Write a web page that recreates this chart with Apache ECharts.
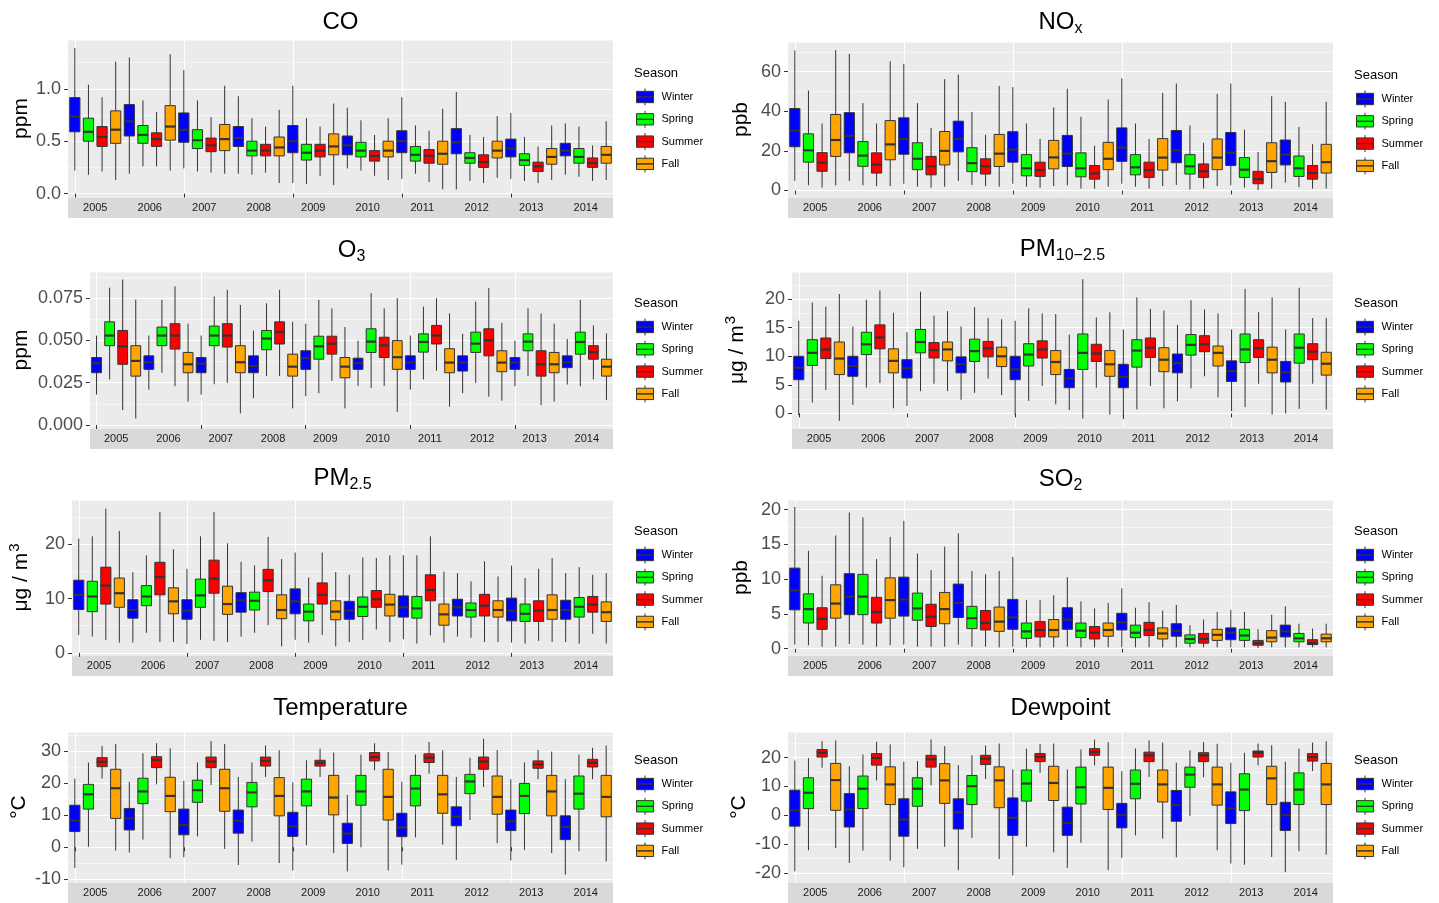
<!DOCTYPE html>
<html>
<head>
<meta charset="utf-8">
<title>Seasonal air quality and weather, 2005-2014</title>
<script src="https://cdn.jsdelivr.net/npm/echarts@6/dist/echarts.min.js"></script>
<style>
html, body { margin: 0; padding: 0; background: #fff; }
#main { width: 1439px; height: 903px; }
</style>
</head>
<body>
<div id="main"></div>
<script>
var years = ['2005', '2006', '2007', '2008', '2009', '2010', '2011', '2012', '2013', '2014'];
var seasons = ['Winter', 'Spring', 'Summer', 'Fall'];
var seasonColors = ['#0000FF', '#00FF00', '#FF0000', '#FFA500'];

// labelled y ticks of each panel
var coTicks = [0, 0.5, 1.0];
var noxTicks = [0, 20, 40, 60];
var o3Ticks = [0, 0.025, 0.05, 0.075];
var pm10Ticks = [0, 5, 10, 15, 20];
var pm25Ticks = [0, 10, 20];
var so2Ticks = [0, 5, 10, 15, 20];
var tempTicks = [-10, 0, 10, 20, 30];
var dewTicks = [-20, -10, 0, 10, 20];

// one row per box: [lower whisker, q1, median, q3, upper whisker]
// order: 2005 Winter, Spring, Summer, Fall, 2006 Winter ...
var coBox = [
	[0.22, 0.59, 0.735, 0.917, 1.39], [0.18, 0.50, 0.59, 0.72, 1.04], [0.21, 0.45, 0.54, 0.64, 0.92], [0.13, 0.48, 0.61, 0.79, 1.26],
	[0.19, 0.55, 0.69, 0.85, 1.30], [0.26, 0.48, 0.56, 0.65, 0.89], [0.26, 0.45, 0.52, 0.58, 0.78], [0.22, 0.51, 0.64, 0.84, 1.33],
	[0.24, 0.49, 0.61, 0.77, 1.18], [0.21, 0.43, 0.51, 0.61, 0.89], [0.20, 0.40, 0.46, 0.53, 0.73], [0.19, 0.41, 0.52, 0.66, 1.03],
	[0.19, 0.45, 0.53, 0.64, 0.93], [0.18, 0.36, 0.41, 0.50, 0.72], [0.20, 0.36, 0.41, 0.47, 0.64], [0.10, 0.36, 0.44, 0.54, 0.80],
	[0.10, 0.39, 0.50, 0.65, 1.03], [0.09, 0.32, 0.39, 0.47, 0.72], [0.17, 0.35, 0.41, 0.47, 0.64], [0.08, 0.37, 0.45, 0.57, 0.86],
	[0.24, 0.37, 0.46, 0.55, 0.82], [0.22, 0.35, 0.41, 0.49, 0.70], [0.17, 0.31, 0.36, 0.41, 0.56], [0.13, 0.35, 0.41, 0.50, 0.72],
	[0.14, 0.39, 0.50, 0.60, 0.92], [0.19, 0.31, 0.37, 0.45, 0.65], [0.11, 0.29, 0.36, 0.42, 0.60], [0.04, 0.28, 0.38, 0.50, 0.81],
	[0.04, 0.38, 0.49, 0.62, 0.97], [0.12, 0.29, 0.34, 0.39, 0.56], [0.10, 0.25, 0.30, 0.37, 0.54], [0.15, 0.34, 0.41, 0.50, 0.74],
	[0.14, 0.35, 0.43, 0.52, 0.77], [0.12, 0.27, 0.32, 0.38, 0.54], [0.10, 0.21, 0.26, 0.30, 0.45], [0.13, 0.28, 0.35, 0.43, 0.65],
	[0.18, 0.36, 0.41, 0.48, 0.67], [0.16, 0.29, 0.35, 0.43, 0.64], [0.12, 0.25, 0.29, 0.34, 0.46], [0.13, 0.29, 0.37, 0.45, 0.69]
];
var noxBox = [
	[4.8, 22.1, 30.2, 41.4, 70.7], [2.6, 14.3, 20.3, 28.6, 50.5], [1.4, 9.7, 14.0, 19.1, 33.8], [2.6, 17.2, 25.5, 38.4, 70.9],
	[4.8, 19.0, 27.6, 39.3, 69.0], [2.6, 12.2, 17.6, 24.7, 44.1], [2.2, 8.8, 13.1, 19.0, 33.8], [2.2, 15.5, 23.3, 35.3, 65.2],
	[3.4, 18.3, 26.0, 36.7, 64.0], [1.9, 10.5, 16.0, 24.1, 44.1], [1.4, 7.9, 12.2, 17.2, 31.6], [1.9, 12.9, 20.0, 29.8, 56.2],
	[4.8, 19.5, 26.0, 35.0, 58.6], [2.8, 9.5, 13.8, 21.6, 39.7], [2.2, 8.3, 12.2, 16.0, 28.1], [1.9, 12.1, 18.6, 28.3, 52.8],
	[3.4, 14.3, 20.7, 29.7, 52.2], [1.9, 7.4, 11.2, 18.1, 33.8], [1.4, 7.1, 10.3, 14.3, 26.0], [2.2, 10.9, 16.7, 25.3, 41.9],
	[2.6, 12.1, 18.6, 27.8, 51.4], [1.0, 6.9, 11.2, 19.0, 37.2], [0.9, 5.7, 8.6, 12.6, 22.6], [1.9, 10.5, 16.0, 24.3, 45.9],
	[3.4, 14.7, 21.7, 31.6, 56.6], [1.9, 7.9, 11.7, 18.1, 33.8], [1.0, 6.6, 10.3, 14.3, 26.0], [2.2, 10.3, 16.6, 26.2, 49.3],
	[2.8, 14.0, 20.3, 30.3, 54.0], [0.5, 8.3, 12.2, 18.1, 32.8], [1.0, 6.6, 9.7, 13.4, 24.1], [2.2, 10.5, 16.6, 26.0, 48.8],
	[2.6, 12.6, 19.0, 29.3, 54.0], [1.4, 6.6, 10.5, 16.6, 30.7], [0.2, 3.4, 5.7, 9.7, 19.5], [1.0, 9.1, 14.8, 24.1, 47.6],
	[4.0, 12.9, 18.1, 25.5, 44.8], [1.7, 7.1, 11.2, 17.4, 32.1], [0.9, 5.7, 8.8, 12.6, 23.4], [1.0, 8.8, 14.3, 23.3, 44.8]
];
var o3Box = [
	[0.0180, 0.0309, 0.0365, 0.0399, 0.0529], [0.0269, 0.0469, 0.0529, 0.0610, 0.0812], [0.0088, 0.0359, 0.0465, 0.0559, 0.0860], [0.0038, 0.0289, 0.0379, 0.0469, 0.0742],
	[0.0209, 0.0329, 0.0371, 0.0409, 0.0529], [0.0309, 0.0469, 0.0529, 0.0579, 0.0740], [0.0229, 0.0449, 0.0529, 0.0599, 0.0820], [0.0138, 0.0309, 0.0359, 0.0429, 0.0599],
	[0.0180, 0.0309, 0.0363, 0.0399, 0.0529], [0.0241, 0.0469, 0.0529, 0.0585, 0.0760], [0.0249, 0.0461, 0.0529, 0.0599, 0.0800], [0.0068, 0.0309, 0.0371, 0.0469, 0.0710],
	[0.0158, 0.0309, 0.0349, 0.0409, 0.0559], [0.0289, 0.0445, 0.0511, 0.0559, 0.0720], [0.0289, 0.0479, 0.0551, 0.0610, 0.0800], [0.0098, 0.0289, 0.0345, 0.0419, 0.0610],
	[0.0170, 0.0329, 0.0395, 0.0439, 0.0599], [0.0188, 0.0389, 0.0465, 0.0525, 0.0740], [0.0261, 0.0419, 0.0481, 0.0525, 0.0690], [0.0098, 0.0279, 0.0345, 0.0399, 0.0579],
	[0.0231, 0.0329, 0.0365, 0.0395, 0.0499], [0.0219, 0.0429, 0.0493, 0.0569, 0.0780], [0.0231, 0.0399, 0.0471, 0.0519, 0.0690], [0.0078, 0.0329, 0.0401, 0.0499, 0.0750],
	[0.0209, 0.0329, 0.0369, 0.0409, 0.0529], [0.0269, 0.0431, 0.0491, 0.0539, 0.0700], [0.0321, 0.0479, 0.0529, 0.0589, 0.0750], [0.0108, 0.0309, 0.0369, 0.0451, 0.0660],
	[0.0188, 0.0319, 0.0369, 0.0409, 0.0539], [0.0249, 0.0429, 0.0481, 0.0549, 0.0730], [0.0168, 0.0409, 0.0501, 0.0569, 0.0810], [0.0144, 0.0315, 0.0369, 0.0439, 0.0605],
	[0.0229, 0.0329, 0.0369, 0.0399, 0.0499], [0.0289, 0.0439, 0.0493, 0.0539, 0.0690], [0.0118, 0.0289, 0.0359, 0.0439, 0.0660], [0.0138, 0.0309, 0.0359, 0.0429, 0.0599],
	[0.0239, 0.0339, 0.0371, 0.0409, 0.0509], [0.0229, 0.0419, 0.0491, 0.0549, 0.0740], [0.0269, 0.0389, 0.0431, 0.0469, 0.0589], [0.0148, 0.0289, 0.0345, 0.0389, 0.0541]
];
var pm10Box = [
	[-0.3, 5.9, 8.0, 10.0, 16.2], [1.9, 8.4, 10.6, 12.9, 19.4], [4.1, 9.6, 11.2, 13.2, 18.7], [-1.3, 6.8, 9.6, 12.5, 20.9],
	[1.5, 6.5, 8.3, 10.0, 15.2], [4.5, 10.3, 12.1, 14.2, 19.9], [5.3, 11.3, 13.3, 15.5, 21.5], [0.9, 7.1, 9.2, 11.3, 17.6],
	[1.3, 6.2, 7.9, 9.4, 14.2], [3.9, 10.6, 12.5, 14.7, 21.3], [5.2, 9.7, 11.1, 12.4, 17.1], [3.9, 9.2, 11.2, 12.5, 17.9],
	[2.4, 7.1, 8.6, 9.9, 15.2], [3.6, 9.1, 10.9, 13.0, 18.6], [6.1, 9.9, 11.4, 12.6, 16.7], [3.2, 8.2, 10.0, 11.6, 16.5],
	[-0.3, 5.9, 7.7, 10.0, 16.2], [2.2, 8.3, 10.3, 12.2, 18.4], [4.8, 9.7, 11.2, 12.7, 17.5], [1.6, 6.8, 9.0, 11.0, 17.4],
	[0.6, 4.5, 6.1, 7.7, 13.8], [-0.9, 7.7, 10.6, 13.9, 23.5], [4.5, 9.1, 10.5, 12.1, 16.8], [-0.2, 6.5, 8.6, 11.0, 17.7],
	[-1.0, 4.5, 6.4, 8.6, 14.7], [0.7, 8.1, 11.0, 12.9, 20.3], [4.8, 9.8, 11.5, 13.2, 18.3], [0.9, 7.3, 9.4, 11.5, 18.0],
	[2.1, 7.1, 8.8, 10.4, 15.5], [4.4, 10.2, 12.0, 13.8, 19.8], [6.5, 10.8, 12.1, 13.6, 18.2], [2.8, 8.3, 10.6, 11.8, 17.5],
	[0.4, 5.6, 7.4, 9.2, 14.7], [1.1, 8.9, 11.2, 13.9, 21.8], [5.2, 9.8, 11.4, 12.9, 17.7], [-0.2, 7.1, 9.4, 11.6, 20.3],
	[0.0, 5.5, 7.2, 9.1, 14.7], [0.8, 8.8, 11.5, 13.9, 22.0], [5.2, 9.4, 10.8, 12.2, 16.7], [0.7, 6.7, 8.7, 10.7, 16.7]
];
var pm25Box = [
	[3.3, 8.0, 10.7, 13.4, 21.1], [3.0, 7.6, 10.4, 13.2, 21.5], [2.4, 9.0, 12.4, 15.8, 26.6], [1.9, 8.4, 11.0, 13.8, 22.5],
	[1.9, 6.4, 7.9, 9.8, 14.9], [3.7, 8.7, 10.4, 12.4, 18.0], [2.0, 10.7, 14.0, 16.7, 26.0], [2.0, 7.2, 9.5, 12.0, 19.1],
	[1.6, 6.2, 7.8, 9.8, 15.5], [2.4, 8.4, 10.6, 13.6, 21.5], [2.2, 11.0, 13.7, 17.1, 26.0], [2.0, 7.1, 9.0, 12.3, 20.2],
	[3.0, 7.5, 9.7, 11.1, 16.8], [3.7, 7.9, 9.6, 11.2, 16.1], [5.1, 11.3, 13.4, 15.4, 21.4], [1.2, 6.3, 7.9, 10.7, 17.3],
	[2.4, 7.2, 9.5, 11.8, 18.5], [1.9, 5.9, 7.6, 9.0, 13.9], [3.3, 9.0, 10.7, 12.9, 18.5], [1.2, 6.1, 7.6, 9.6, 14.9],
	[2.0, 6.2, 7.8, 9.5, 14.4], [2.4, 6.7, 8.5, 10.3, 17.6], [4.3, 8.4, 9.9, 11.5, 17.5], [2.0, 6.8, 8.9, 10.8, 18.0],
	[2.5, 6.6, 8.4, 10.5, 18.0], [1.7, 6.4, 8.2, 10.4, 18.0], [3.2, 9.6, 11.6, 14.4, 21.5], [1.9, 5.1, 7.1, 9.0, 15.0],
	[3.0, 6.8, 8.4, 9.9, 14.7], [2.8, 6.6, 7.9, 9.2, 13.2], [2.0, 6.8, 8.7, 10.8, 16.9], [2.0, 6.6, 7.9, 9.6, 14.1],
	[1.9, 5.9, 7.8, 10.1, 16.1], [1.7, 5.8, 7.2, 9.0, 13.8], [2.2, 5.8, 7.8, 9.6, 15.5], [2.0, 6.2, 7.9, 10.7, 17.5],
	[2.0, 6.2, 7.9, 9.7, 14.7], [1.7, 6.6, 8.5, 10.2, 15.8], [3.5, 7.5, 8.9, 10.4, 14.4], [1.7, 5.8, 7.5, 9.4, 14.7]
];
var so2Box = [
	[0.6, 5.6, 8.4, 11.6, 20.4], [0.5, 3.7, 5.7, 7.9, 14.1], [0.3, 2.8, 4.3, 5.9, 10.5], [0.3, 4.4, 6.5, 9.2, 16.3],
	[0.7, 4.9, 7.5, 10.8, 19.6], [0.6, 4.9, 7.5, 10.7, 18.9], [0.3, 3.7, 5.3, 7.4, 12.9], [0.5, 4.4, 7.0, 10.2, 16.1],
	[0.6, 4.7, 7.1, 10.3, 18.4], [0.3, 4.1, 5.8, 8.0, 13.7], [0.3, 3.2, 4.6, 6.4, 11.3], [0.3, 3.6, 5.7, 8.1, 14.7],
	[0.6, 4.5, 6.6, 9.3, 16.6], [0.3, 2.9, 4.4, 6.1, 11.2], [0.3, 2.7, 3.7, 5.5, 10.7], [0.2, 2.5, 3.9, 6.0, 11.2],
	[0.3, 2.8, 4.5, 7.1, 13.2], [0.2, 1.5, 2.5, 3.7, 7.0], [0.2, 1.7, 2.7, 3.9, 7.0], [0.2, 1.7, 2.7, 4.2, 7.7],
	[0.3, 2.8, 4.2, 5.9, 10.3], [0.2, 1.6, 2.6, 3.7, 6.8], [0.2, 1.4, 2.3, 3.2, 5.8], [0.2, 1.8, 2.7, 3.7, 6.6],
	[0.2, 2.7, 3.8, 5.1, 8.7], [0.2, 1.6, 2.3, 3.4, 5.9], [0.2, 1.9, 2.7, 3.8, 6.7], [0.2, 1.4, 2.2, 3.0, 5.5],
	[0.2, 1.8, 2.6, 3.6, 6.3], [0.2, 0.8, 1.4, 2.0, 3.4], [0.2, 0.8, 1.4, 2.2, 4.2], [0.2, 1.2, 2.0, 2.8, 5.3],
	[0.2, 1.3, 2.3, 3.0, 5.6], [0.2, 1.2, 1.9, 2.8, 5.3], [0.1, 0.5, 0.8, 1.2, 2.8], [0.2, 1.0, 1.6, 2.6, 4.9],
	[0.2, 1.7, 2.5, 3.4, 6.1], [0.2, 1.0, 1.5, 2.2, 3.6], [0.2, 0.6, 0.8, 1.3, 2.9], [0.2, 1.0, 1.5, 2.1, 3.6]
];
var tempBox = [
	[-6.4, 4.9, 8.3, 13.1, 21.4], [0.2, 11.9, 16.5, 19.6, 26.4], [21.4, 25.1, 26.6, 27.9, 31.5], [-1.0, 9.0, 18.4, 24.3, 32.2],
	[-1.6, 5.4, 9.0, 12.1, 20.4], [2.4, 13.6, 17.4, 21.5, 29.3], [19.6, 24.8, 27.2, 28.2, 32.4], [-3.4, 11.1, 16.0, 21.8, 30.8],
	[-3.1, 3.9, 6.9, 11.9, 20.7], [3.4, 14.0, 17.8, 20.9, 26.4], [19.4, 24.8, 26.7, 28.1, 33.1], [-0.5, 11.2, 18.4, 24.3, 32.2],
	[-5.5, 4.4, 8.3, 11.6, 21.9], [1.8, 12.6, 17.1, 20.2, 26.4], [21.9, 25.3, 26.9, 28.1, 31.7], [-4.9, 9.8, 16.0, 21.7, 30.2],
	[-7.2, 3.4, 6.5, 10.9, 20.2], [0.7, 12.9, 17.4, 21.2, 27.1], [21.9, 25.3, 26.3, 27.1, 30.7], [-1.8, 10.1, 15.5, 22.4, 29.5],
	[-7.5, 1.2, 4.3, 7.5, 16.3], [0.0, 13.1, 17.4, 22.4, 28.9], [24.0, 26.9, 28.1, 29.5, 32.4], [-7.2, 8.5, 15.7, 24.3, 29.7],
	[-5.4, 3.3, 6.2, 10.6, 20.4], [3.1, 12.9, 18.3, 22.4, 28.9], [22.9, 26.4, 27.9, 29.1, 32.8], [0.8, 10.6, 16.5, 22.4, 30.2],
	[-3.9, 6.7, 9.5, 12.6, 21.9], [8.5, 16.7, 20.5, 22.7, 27.9], [18.8, 24.3, 26.7, 28.1, 33.8], [1.3, 10.3, 15.7, 22.2, 30.3],
	[-4.1, 5.2, 8.1, 11.6, 21.2], [-0.8, 10.5, 16.0, 19.9, 26.4], [21.2, 24.6, 25.8, 26.9, 30.3], [-1.8, 9.8, 17.4, 22.4, 29.8],
	[-8.5, 2.4, 6.4, 9.8, 21.2], [-1.2, 11.9, 16.7, 22.2, 28.9], [21.2, 25.0, 26.3, 27.4, 31.0], [-4.4, 9.5, 15.7, 22.4, 31.7]
];
var dewBox = [
	[-19.5, -3.8, 1.7, 8.7, 19.0], [-12.2, 2.3, 7.8, 13.0, 19.9], [16.5, 20.2, 21.7, 22.8, 25.7], [-11.4, 1.7, 12.2, 18.0, 26.0],
	[-16.6, -4.1, 2.0, 7.5, 17.0], [-12.3, 2.3, 9.2, 13.6, 21.1], [12.1, 17.4, 19.9, 21.4, 25.5], [-15.8, 3.7, 10.7, 16.8, 24.6],
	[-18.1, -7.3, -1.5, 5.7, 18.6], [-11.7, 3.1, 9.2, 13.0, 18.8], [10.4, 16.7, 19.4, 20.8, 26.3], [-11.0, 4.1, 12.1, 17.9, 24.0],
	[-19.1, -4.8, 1.0, 5.7, 17.4], [-7.9, 3.7, 10.1, 13.8, 20.8], [12.6, 17.6, 19.6, 20.8, 24.2], [-15.2, 2.6, 12.1, 16.8, 24.9],
	[-20.9, -7.0, -0.9, 6.0, 15.9], [-11.0, 4.9, 11.0, 15.7, 23.1], [14.7, 18.6, 20.3, 21.4, 24.8], [-12.9, 5.1, 11.2, 17.0, 24.9],
	[-18.3, -7.0, -2.7, 2.8, 15.9], [-9.6, 3.9, 9.7, 16.7, 22.8], [17.3, 20.8, 21.9, 23.1, 26.3], [-19.1, 2.0, 9.5, 16.7, 25.4],
	[-14.8, -4.4, 0.0, 4.1, 15.3], [-7.0, 5.7, 10.9, 15.7, 23.2], [13.3, 18.6, 20.8, 21.9, 26.0], [-8.1, 4.6, 10.7, 15.7, 25.2],
	[-14.6, -2.1, 3.5, 8.6, 18.2], [-0.3, 9.7, 14.1, 16.7, 22.5], [13.2, 18.6, 20.8, 21.7, 25.4], [-12.2, 3.5, 10.7, 16.7, 24.8],
	[-16.8, -2.9, 2.3, 8.1, 18.2], [-17.2, 1.6, 8.9, 14.4, 21.7], [17.3, 20.2, 21.7, 22.3, 24.9], [-14.5, 3.7, 12.8, 17.0, 24.3],
	[-19.8, -5.3, 0.0, 4.5, 18.6], [-12.5, 3.7, 8.9, 14.7, 23.1], [15.3, 18.8, 20.2, 21.4, 25.2], [-13.7, 3.7, 10.7, 18.0, 25.7]
];

var font = '"Liberation Sans", Arial, Helvetica, sans-serif';
var stripH = 21;

var panels = [
	{title: 'CO', unit: 'ppm', data: coBox, ticks: coTicks, min: -0.033, max: 1.467, step: 0.5, digits: 1,
		left: 68, top: 40, width: 545, height: 157, titleTop: 10, nameX: 22, seasonY: 74},
	{title: '{a|NO}{s|x}', unit: 'ppb', data: noxBox, ticks: noxTicks, min: -3.3, max: 75, step: 20, digits: 0,
		left: 788, top: 42, width: 545, height: 155, titleTop: 10, nameX: 742, seasonY: 76},
	{title: '{a|O}{s|3}', unit: 'ppm', data: o3Box, ticks: o3Ticks, min: -0.0018, max: 0.0905, step: 0.025, digits: 3,
		left: 90, top: 272, width: 523, height: 156, titleTop: 238, nameX: 22, seasonY: 304},
	{title: '{a|PM}{s|10\u22122.5}', unit: '{u|\u03bcg / m}{p|3}', data: pm10Box, ticks: pm10Ticks, min: -2.55, max: 24.75, step: 5, digits: 0,
		left: 792, top: 272, width: 541, height: 156, titleTop: 237, nameX: 738, seasonY: 304},
	{title: '{a|PM}{s|2.5}', unit: '{u|\u03bcg / m}{p|3}', data: pm25Box, ticks: pm25Ticks, min: -0.4, max: 28.2, step: 10, digits: 0,
		left: 72, top: 500, width: 541, height: 155, titleTop: 466, nameX: 22, seasonY: 532},
	{title: '{a|SO}{s|2}', unit: 'ppb', data: so2Box, ticks: so2Ticks, min: -0.9, max: 21.4, step: 5, digits: 0,
		left: 788, top: 500, width: 545, height: 155, titleTop: 467, nameX: 742, seasonY: 532},
	{title: 'Temperature', unit: '\u00b0C', data: tempBox, ticks: tempTicks, min: -10.8, max: 35.9, step: 10, digits: 0,
		left: 68, top: 732, width: 545, height: 150, titleTop: 696, nameX: 20, seasonY: 761},
	{title: 'Dewpoint', unit: '\u00b0C', data: dewBox, ticks: dewTicks, min: -23.2, max: 28.9, step: 10, digits: 0,
		left: 788, top: 732, width: 545, height: 150, titleTop: 696, nameX: 740, seasonY: 761}
];

// 40 boxes per panel: every season of every year gets its own slot
var categories = [];
years.forEach(function (y) {
	seasons.forEach(function (s) {
		categories.push(y + ' ' + s);
	});
});

// legend key drawn like a little boxplot
var boxIcon = 'path://M9,0V3M0,3H18V9H0ZM0,9H18V15H0ZM9,15V18';

var titleRich = {
	a: {fontSize: 24, fontFamily: font, color: '#000', padding: [0, 0, 3, 0], verticalAlign: 'bottom'},
	s: {fontSize: 16, fontFamily: font, color: '#000', verticalAlign: 'bottom'}
};
var nameRich = {
	u: {fontSize: 21, fontFamily: font, color: '#000', verticalAlign: 'bottom'},
	p: {fontSize: 15, fontFamily: font, color: '#000', padding: [0, 0, 10, 1], verticalAlign: 'bottom'}
};

function renderBox(params, api) {
	var x = api.value(0);
	var lo = api.coord([x, api.value(1)]);
	var q1 = api.coord([x, api.value(2)]);
	var md = api.coord([x, api.value(3)]);
	var q3 = api.coord([x, api.value(4)]);
	var hi = api.coord([x, api.value(5)]);
	var bw = api.size([1, 0])[0] * 0.75;
	return {
		type: 'group',
		children: [{
			type: 'line',
			shape: {x1: lo[0], y1: lo[1], x2: hi[0], y2: hi[1]},
			style: {stroke: '#333', lineWidth: 1}
		}, {
			type: 'rect',
			shape: {x: q3[0] - bw / 2, y: q3[1], width: bw, height: q1[1] - q3[1]},
			style: {fill: api.visual('color'), stroke: '#333', lineWidth: 1}
		}, {
			type: 'line',
			shape: {x1: md[0] - bw / 2, y1: md[1], x2: md[0] + bw / 2, y2: md[1]},
			style: {stroke: '#333', lineWidth: 2.2}
		}]
	};
}

var option = {
	backgroundColor: '#fff',
	animation: false,
	title: [],
	legend: [],
	grid: [],
	xAxis: [],
	yAxis: [],
	series: []
};

panels.forEach(function (p) {
	var gi = option.grid.length;
	var xi = option.xAxis.length;
	var yi = option.yAxis.length;
	var legendLeft = p.left > 700 ? 1354 : 634;

	// plot panel and the year strip under it
	option.grid.push({left: p.left, top: p.top, width: p.width, height: p.height,
		show: true, backgroundColor: '#EBEBEB', borderWidth: 0});
	option.grid.push({left: p.left, top: p.top + p.height, width: p.width, height: stripH,
		show: true, backgroundColor: '#D9D9D9', borderWidth: 0});

	option.xAxis.push({
		type: 'category', gridIndex: gi, data: categories, offset: stripH,
		axisLine: {show: false},
		axisTick: {show: true, alignWithLabel: true, length: 4, lineStyle: {color: '#333'}},
		axisLabel: {show: false},
		splitLine: {show: true, alignWithLabel: true, lineStyle: {color: '#fff', width: 1.1}}
	});
	option.xAxis.push({
		type: 'category', gridIndex: gi + 1, data: years,
		axisLine: {show: false}, axisTick: {show: false}, splitLine: {show: false},
		axisLabel: {inside: true, margin: 5, fontSize: 11, color: '#1A1A1A', fontFamily: font}
	});

	option.yAxis.push({
		type: 'value', gridIndex: gi, min: p.min, max: p.max,
		minInterval: p.step, maxInterval: p.step,
		name: p.unit, nameLocation: 'middle', nameRotate: 90, nameGap: p.left - p.nameX - 10,
		nameTextStyle: {fontSize: 21, color: '#000', fontFamily: font, rich: nameRich},
		axisLine: {show: false},
		axisTick: {show: true, length: 4, customValues: p.ticks, lineStyle: {color: '#333'}},
		axisLabel: {fontSize: 18, color: '#4D4D4D', fontFamily: font, margin: 7, customValues: p.ticks,
			formatter: (function (d) {
				return function (v) { return Number(v).toFixed(d); };
			})(p.digits)},
		splitLine: {show: true, lineStyle: {color: '#fff', width: 1.1}}
	});
	// minor grid lines half way between the labelled ones
	option.yAxis.push({
		type: 'value', gridIndex: gi, min: p.min, max: p.max, position: 'left',
		minInterval: p.step / 2, maxInterval: p.step / 2,
		axisLine: {show: false}, axisTick: {show: false}, axisLabel: {show: false},
		splitLine: {show: true, lineStyle: {color: '#fff', width: 0.5}}
	});
	option.yAxis.push({type: 'value', gridIndex: gi + 1, show: false});

	seasons.forEach(function (s, si) {
		var rows = [];
		years.forEach(function (y, k) {
			var idx = k * 4 + si;
			rows.push([idx].concat(p.data[idx]));
		});
		option.series.push({
			type: 'custom', name: s, xAxisIndex: xi, yAxisIndex: yi,
			itemStyle: {color: seasonColors[si]},
			encode: {x: 0, y: [1, 2, 3, 4, 5]},
			renderItem: renderBox,
			data: rows
		});
	});

	option.title.push({
		text: p.title, left: p.left + p.width / 2, top: p.titleTop, textAlign: 'center', padding: 0,
		textStyle: {fontSize: 24, fontWeight: 'normal', color: '#000', fontFamily: font, rich: titleRich}
	});
	option.title.push({
		text: 'Season', left: legendLeft, top: p.seasonY - 7, padding: 0,
		textStyle: {fontSize: 13, fontWeight: 'normal', color: '#000', fontFamily: font}
	});
	option.legend.push({
		data: seasons, orient: 'vertical', left: legendLeft + 2, top: p.seasonY + 14, padding: 0,
		itemWidth: 17, itemHeight: 17, itemGap: 4.3, icon: boxIcon, selectedMode: false,
		itemStyle: {borderColor: '#333', borderWidth: 1},
		textStyle: {fontSize: 11, color: '#000', fontFamily: font, padding: [0, 0, 0, 3]}
	});
});

var chart = echarts.init(document.getElementById('main'));
chart.setOption(option);
</script>
</body>
</html>
